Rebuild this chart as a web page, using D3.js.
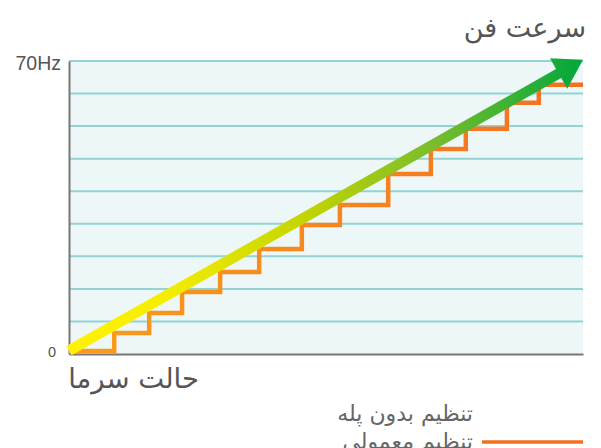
<!DOCTYPE html>
<html><head><meta charset="utf-8">
<script src="https://cdn.jsdelivr.net/npm/d3@7"></script>
<style>body{margin:0;background:#fff;}svg{display:block;}</style>
</head><body>
<script>
// Data
const yTickCount = 9;               // gridline intervals
const yMax = 70;                    // Hz
const yLabels = ["0", "70Hz"];
const stepX = [0, 8.8, 15.6, 22.0, 29.4, 37.0, 45.3, 52.7, 62.1, 70.4, 77.2, 85.2, 91.4, 100];
const stepY = [0.7, 5.0, 9.8, 14.8, 19.6, 25.1, 30.8, 35.6, 43.0, 49.0, 53.8, 60.0, 64.3];
const arrowX = [0, 100];
const arrowY = [0.8, 70.3];
const title = "سرعت فن";
const xTitle = "حالت سرما";
const legendLabels = ["تنظیم بدون پله", "تنظیم معمولی"];

const W = 601, H = 448;
const svg = d3.select("body").append("svg").attr("width", W).attr("height", H);
const x = d3.scaleLinear().domain([0, 100]).range([69, 583]);
const y = d3.scaleLinear().domain([0, yMax]).range([354, 61]);

const defs = svg.append("defs");
const ag = defs.append("linearGradient").attr("id","ag").attr("gradientUnits","userSpaceOnUse")
  .attr("x1", x(0)).attr("x2", x(100)).attr("y1", 0).attr("y2", 0);
[[0,"#fff200"],[0.18,"#f6ee00"],[0.45,"#c6d500"],[0.7,"#7cbe2b"],[1,"#00a73c"]]
  .forEach(([o,c]) => ag.append("stop").attr("offset", o).attr("stop-color", c));
const og = defs.append("linearGradient").attr("id","og").attr("gradientUnits","userSpaceOnUse")
  .attr("x1", x(0)).attr("x2", x(100)).attr("y1", 0).attr("y2", 0);
[[0,"#f99d1c"],[1,"#f37021"]].forEach(([o,c]) => og.append("stop").attr("offset", o).attr("stop-color", c));
const lg = defs.append("linearGradient").attr("id","lg").attr("x1","0").attr("x2","1").attr("y1","0").attr("y2","0");
[[0,"#00a73c"],[0.5,"#a8cc10"],[1,"#fff200"]].forEach(([o,c]) => lg.append("stop").attr("offset", o).attr("stop-color", c));

// plot background
svg.append("rect").attr("x", x(0)).attr("y", y(yMax)).attr("width", x(100)-x(0)).attr("height", y(0)-y(yMax))
  .attr("fill", "#eef7f8");

// gridlines
const ticks = d3.range(1, yTickCount + 1).map(i => i * yMax / yTickCount);
svg.append("g").selectAll("line").data(ticks).join("line")
  .attr("x1", x(0)).attr("x2", x(100)).attr("y1", d => y(d)).attr("y2", d => y(d))
  .attr("stroke", "#92d4d4").attr("stroke-width", 2);

// axes
const xAxis = svg.append("g").attr("transform", `translate(0,${y(0)})`)
  .call(d3.axisBottom(x).tickValues([]).tickSizeOuter(0));
xAxis.select(".domain").attr("stroke", "#777").attr("stroke-width", 2);
const yAxis = svg.append("g").attr("transform", `translate(${x(0)},0)`)
  .call(d3.axisLeft(y).tickValues([0, yMax]).tickSize(0).tickFormat((d,i) => yLabels[i]));
yAxis.select(".domain").attr("stroke", "#777").attr("stroke-width", 2);
yAxis.selectAll("text").attr("font-family", "Liberation Sans, Arial, sans-serif").attr("fill", "#555")
  .attr("font-size", (d,i) => i ? 19.5 : 14.5).attr("dx", (d,i) => i ? -5 : -10).attr("dy", (d,i) => i ? "0.45em" : "0.2em");

// staircase
const stairs = [];
stepY.forEach((v, i) => { stairs.push([stepX[i], v]); stairs.push([stepX[i+1], v]); });
svg.append("path").datum(stairs)
  .attr("d", d3.line().x(d => x(d[0])).y(d => y(d[1])))
  .attr("fill", "none").attr("stroke", "url(#og)").attr("stroke-width", 4.5).attr("stroke-linejoin", "miter");

// arrow
const x0 = x(arrowX[0]), y0 = y(arrowY[0]), x1 = x(arrowX[1]), y1 = y(arrowY[1]);
const dx = x1 - x0, dy = y1 - y0, len = Math.hypot(dx, dy);
const ux = dx/len, uy = dy/len, px = -uy, py = ux;
const headLen = 28, headHalf = 17.5;
const bx = x1 - ux*headLen, by = y1 - uy*headLen;
svg.append("line").attr("x1", x0).attr("y1", y0).attr("x2", bx + ux*2).attr("y2", by + uy*2)
  .attr("stroke", "url(#ag)").attr("stroke-width", 10.5);
svg.append("path")
  .attr("d", `M${x1},${y1}L${bx + px*headHalf},${by + py*headHalf}L${bx - px*headHalf},${by - py*headHalf}Z`)
  .attr("fill", "url(#ag)");

// titles (rtl: text-anchor start = right edge)
const arab = "DejaVu Sans, sans-serif";
svg.append("text").attr("x", 586).attr("y", 37).attr("text-anchor", "start").attr("direction", "rtl")
  .attr("font-family", arab).attr("font-size", 27).attr("fill", "#555").text(title);
svg.append("text").attr("x", 199).attr("y", 388).attr("text-anchor", "start").attr("direction", "rtl")
  .attr("font-family", arab).attr("font-size", 27.5).attr("fill", "#555").text(xTitle);

// legend
const leg = svg.append("g");
const legStroke = ["url(#lg)", "#f26f21"];
legendLabels.forEach((t, i) => {
  const ly = 414 + i * 28;
  leg.append("line").attr("x1", 482).attr("x2", 583).attr("y1", ly).attr("y2", ly)
    .attr("stroke", legStroke[i]).attr("stroke-width", 3.5);
  leg.append("text").attr("x", 473).attr("y", ly + 7).attr("text-anchor", "start").attr("direction", "rtl")
    .attr("font-family", arab).attr("font-size", 22).attr("fill", "#666").text(t);
});
</script>
</body></html>
